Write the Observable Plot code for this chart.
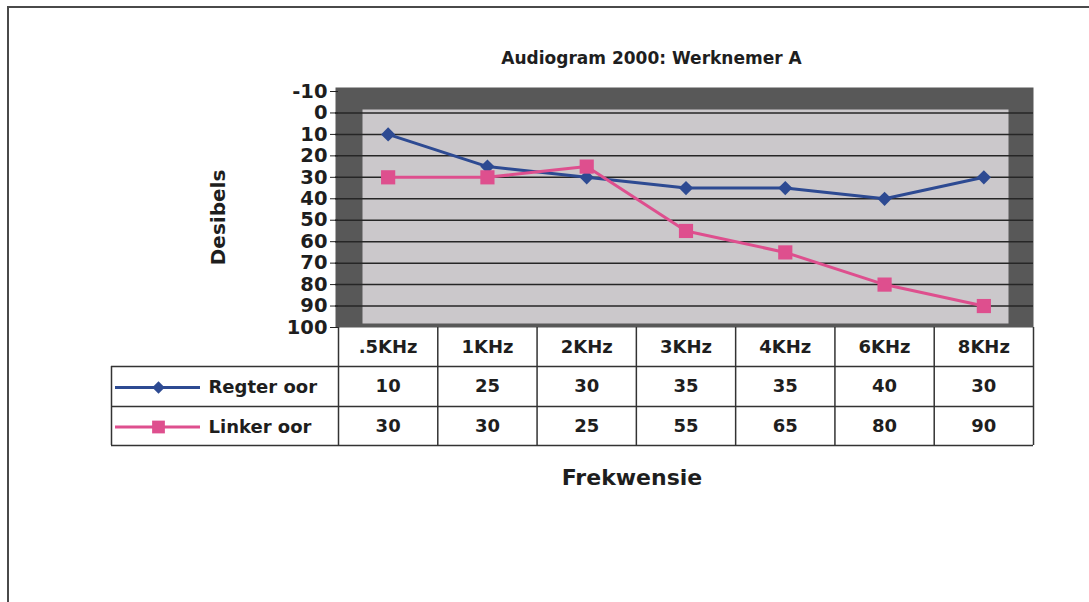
<!DOCTYPE html>
<html><head><meta charset="utf-8">
<script src="https://cdn.jsdelivr.net/npm/d3@7"></script>
<script src="https://cdn.jsdelivr.net/npm/@observablehq/plot@0.6"></script>
<style>
html,body{margin:0;padding:0;background:#fff;width:1089px;height:602px;overflow:hidden}
#wrap{position:relative;width:1089px;height:602px}
#border{position:absolute;left:7px;top:6px;right:0;bottom:-4px;border-left:2px solid #4a4a4a;border-top:2px solid #4a4a4a;pointer-events:none}
#chart svg{display:block;font-family:"DejaVu Sans",sans-serif}
#chart g[aria-label="y-axis tick label"]{font-family:"DejaVu Sans",sans-serif;font-weight:bold;font-size:19.5px}
</style></head><body>
<div id="wrap"><div id="chart"></div><div id="border"></div></div>
<script>
const categories = [".5KHz","1KHz","2KHz","3KHz","4KHz","6KHz","8KHz"];
const regter = [10,25,30,35,35,40,30];
const linker = [30,30,25,55,65,80,90];
const seriesNames = ["Regter oor","Linker oor"];
const yTicks = [-10,0,10,20,30,40,50,60,70,80,90,100];
const title = "Audiogram 2000: Werknemer A";
const yLabel = "Desibels";
const xLabel = "Frekwensie";

const blue = "#2d4a92", pink = "#de4f8e";
const W = 1089, H = 602, mL = 338, mR = 56, mT = 91, mB = 275;
const bw = (W - mL - mR) / categories.length;
const yMin = yTicks[0], yMax = yTicks[yTicks.length - 1];
const font = {fontFamily: "DejaVu Sans", fontWeight: "bold", fill: "#1e1e1e", lineAnchor: "middle"};
const rowDy = [59, 98.5];
const series = [
  {name: seriesNames[0], values: regter, color: blue, symbol: "diamond2", r: 6.4, lr: 5.6},
  {name: seriesNames[1], values: linker, color: pink, symbol: "square", r: 8, lr: 7.2}
];
const lineColor = "#333";
const firstCenter = mL + bw / 2;
const frameCenter = mL + (W - mL - mR) / 2;

const marks = [
  Plot.frame({fill: "#585858", stroke: null, insetLeft: -3, insetTop: -4}),
  Plot.frame({fill: "#cbc8cb", stroke: null, insetLeft: 24, insetRight: 25, insetTop: 18, insetBottom: 4}),
  Plot.ruleY(yTicks.filter(t => t > yMin && t < yMax), {y: d => d, stroke: "#262626", strokeWidth: 1.5, insetLeft: -3}),
  Plot.axisY({ticks: yTicks, tickSize: 8, tickPadding: 3, tickFormat: d => String(d), label: null,
    fontSize: 19.5, fontWeight: "bold", fontFamily: "DejaVu Sans", stroke: "#222", fill: "#1e1e1e"}),
  // table grid
  Plot.ruleY([yMax], {y: d => d, dy: 39, insetLeft: -(mL - 111), stroke: lineColor, strokeWidth: 1.5}),
  Plot.ruleY([yMax], {y: d => d, dy: 79, insetLeft: -(mL - 111), stroke: lineColor, strokeWidth: 1.5}),
  Plot.ruleY([yMax], {y: d => d, dy: 118, insetLeft: -(mL - 111), stroke: lineColor, strokeWidth: 1.5}),
  Plot.ruleX(categories, {x: d => d, dx: -bw / 2, insetTop: H - mB - mT, insetBottom: -118, stroke: lineColor, strokeWidth: 1.5}),
  Plot.ruleX([categories[categories.length - 1]], {x: d => d, dx: bw / 2, insetTop: H - mB - mT, insetBottom: -118, stroke: lineColor, strokeWidth: 1.5}),
  Plot.ruleX([categories[0]], {x: d => d, dx: -bw / 2 - (mL - 111), insetTop: H - mB - mT + 39, insetBottom: -118, stroke: lineColor, strokeWidth: 1.5}),
  // header
  Plot.text(categories, {x: d => d, text: d => d, frameAnchor: "bottom", dy: 20, fontSize: 18, ...font}),
];

series.forEach((s, k) => {
  marks.push(
    Plot.text(s.values, {x: (d, i) => categories[i], text: d => String(d), frameAnchor: "bottom", dy: rowDy[k], fontSize: 18, ...font}),
    Plot.ruleY([yMax], {y: d => d, dy: rowDy[k] + 1, insetLeft: -(mL - 115), insetRight: W - mR - 200, stroke: s.color, strokeWidth: 3}),
    Plot.dot([s.name], {x: () => categories[0], frameAnchor: "bottom", dy: rowDy[k] + 1, dx: 158 - firstCenter, symbol: s.symbol, r: s.lr, fill: s.color, stroke: null}),
    Plot.text([s.name], {x: () => categories[0], text: d => d, frameAnchor: "bottom", dy: rowDy[k] + 1, dx: 208 - firstCenter, textAnchor: "start", fontSize: 18, ...font})
  );
});

series.forEach(s => {
  marks.push(
    Plot.line(s.values, {x: (d, i) => categories[i], y: d => d, stroke: s.color, strokeWidth: 3}),
    Plot.dot(s.values, {x: (d, i) => categories[i], y: d => d, symbol: s.symbol, r: s.r, fill: s.color, stroke: null})
  );
});

marks.push(
  Plot.text([title], {frameAnchor: "top", textAnchor: "middle", dx: 651 - frameCenter, dy: -33, fontSize: 17, ...font}),
  Plot.text([xLabel], {frameAnchor: "bottom", textAnchor: "middle", dx: 631.5 - frameCenter, dy: 150, fontSize: 22, ...font}),
  Plot.text([yLabel], {frameAnchor: "left", textAnchor: "middle", dx: 218 - mL, dy: 8, rotate: -90, fontSize: 20, ...font})
);

const chart = Plot.plot({
  width: W, height: H,
  marginLeft: mL, marginRight: mR, marginTop: mT, marginBottom: mB,
  style: {fontFamily: "DejaVu Sans", background: "transparent"},
  x: {type: "band", domain: categories, padding: 0, round: false, axis: null},
  y: {domain: [yMin, yMax], reverse: true, label: null, axis: null},
  marks
});
document.getElementById("chart").appendChild(chart);
</script>
</body></html>
